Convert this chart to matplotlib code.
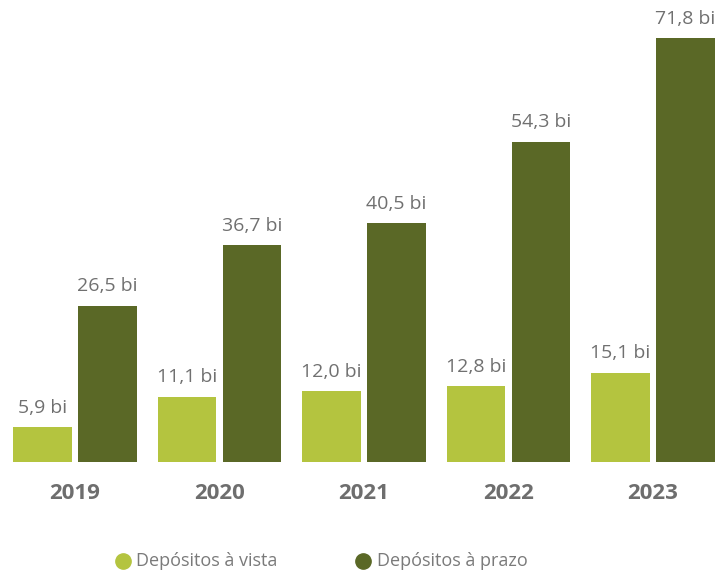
import matplotlib
matplotlib.use("Agg")
import matplotlib.pyplot as plt
import numpy as np

years = ["2019", "2020", "2021", "2022", "2023"]
vista = [5.9, 11.1, 12.0, 12.8, 15.1]
prazo = [26.5, 36.7, 40.5, 54.3, 71.8]
series_names = ["Depósitos à vista", "Depósitos à prazo"]
colors = ["#b4c43f", "#5a6826"]

plt.rcParams['font.family'] = ['Open Sans', 'DejaVu Sans']

fig = plt.figure(figsize=(7.23, 5.70), dpi=100)
ax = fig.add_axes([0, 108/570, 1, 462/570])

x = np.arange(len(years))
w = 0.408
off = 0.225
b1 = ax.bar(x - off, vista, w, color=colors[0])
b2 = ax.bar(x + off, prazo, w, color=colors[1])

def fmt(v):
    return f"{v:.1f}".replace(".", ",") + " bi"

for bars, vals in ((b1, vista), (b2, prazo)):
    for b, v in zip(bars, vals):
        ax.annotate(fmt(v), (b.get_x() + b.get_width() / 2, v),
                    xytext=(0, 7.5), textcoords="offset points",
                    ha="center", va="bottom", fontsize=14, color="#707070")

ax.set_xlim(-75/144.5, (723-75)/144.5)
ax.set_ylim(0, 462/5.9)
ax.set_xticks(x)
ax.set_xticklabels(years, fontsize=16, fontweight="bold", color="#6e6e6e")
ax.tick_params(axis="x", length=0, pad=15)
ax.set_yticks([])
for s in ax.spines.values():
    s.set_visible(False)

# legend
ly = 1 - 561/570
fig.text(136/723, ly, series_names[0], fontsize=13, color="#7a7a7a", va="center", ha="left")
fig.text(377/723, ly, series_names[1], fontsize=13, color="#7a7a7a", va="center", ha="left")
fig.add_artist(plt.Line2D([123/723], [ly], marker="o", markersize=11, color=colors[0], transform=fig.transFigure))
fig.add_artist(plt.Line2D([363/723], [ly], marker="o", markersize=11, color=colors[1], transform=fig.transFigure))

fig.savefig("out.png", dpi=100)
